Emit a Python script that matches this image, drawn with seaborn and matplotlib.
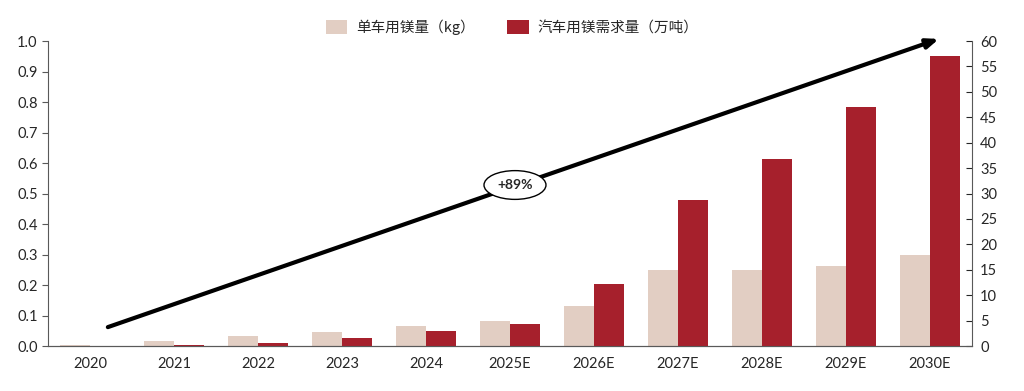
import pandas as pd
import matplotlib.pyplot as plt
from matplotlib.patches import Patch
import seaborn as sns

years = ['2020', '2021', '2022', '2023', '2024', '2025E', '2026E',
         '2027E', '2028E', '2029E', '2030E']
kg_per_car = [0.003, 0.016, 0.033, 0.047, 0.066, 0.082, 0.132,
              0.249, 0.249, 0.263, 0.298]
demand_wt = [0.05, 0.2, 0.6, 1.6, 2.9, 4.3, 12.3, 28.8, 36.8, 47.0, 57.1]
series = ['单车用镁量（kg）', '汽车用镁需求量（万吨）']
colors = ['#E2CEC3', '#A6202C']

sns.set_style('white')
plt.rcParams['font.family'] = ['Lato', 'Noto Sans CJK SC', 'DejaVu Sans']

df_kg = pd.DataFrame({'year': years, 'value': kg_per_car, 'series': series[0]})
df_wt = pd.DataFrame({'year': years, 'value': demand_wt, 'series': series[1]})

fig = plt.figure(figsize=(10.24, 3.91), dpi=100)
ax = fig.add_axes([0.047, 0.115, 0.902, 0.78])
ax2 = ax.twinx()

pal = dict(zip(series, colors))
sns.barplot(data=df_kg, x='year', y='value', hue='series', hue_order=series,
            order=years, palette=pal, width=0.72, dodge=True, ax=ax,
            legend=False, saturation=1, linewidth=0)
sns.barplot(data=df_wt, x='year', y='value', hue='series', hue_order=series,
            order=years, palette=pal, width=0.72, dodge=True, ax=ax2,
            legend=False, saturation=1, linewidth=0)

ax.set_xlim(-0.5, 10.5)
ax.set_ylim(0, 1.0)
ax2.set_ylim(0, 60)
ax.set_yticks([i / 10 for i in range(11)])
ax.set_yticklabels([f'{i / 10:.1f}' for i in range(11)])
ax2.set_yticks(range(0, 61, 5))
ax.set_xlabel('')
ax.set_ylabel('')
ax2.set_ylabel('')

for a in (ax, ax2):
    a.spines['top'].set_visible(False)
    for s in a.spines.values():
        s.set_color('#595959')
    a.tick_params(labelsize=10.5, colors='#262626', length=4)
ax.spines['right'].set_visible(False)
ax2.spines['left'].set_visible(False)
ax.tick_params(axis='x', length=0, pad=8)
ax2.tick_params(axis='y', direction='in', pad=6)
ax.tick_params(axis='y', color='#595959')

# growth arrow
ax.annotate('', xy=(10.14, 1.01), xytext=(0.18, 0.059),
            xycoords='data', textcoords='data', annotation_clip=False,
            arrowprops=dict(arrowstyle='-|>,head_length=0.7,head_width=0.28',
                            color='black', lw=3))
ax.text(5.06, 0.528, '+89%', ha='center', va='center', fontsize=10,
        fontweight='bold',
        bbox=dict(boxstyle='ellipse,pad=0.3', fc='white', ec='black', lw=1))

handles = [Patch(facecolor=c, edgecolor='none') for c in colors]
fig.legend(handles, series, loc='center', bbox_to_anchor=(0.5, 0.93),
           ncol=2, frameon=False, handlelength=1.5,
           handleheight=1.1, columnspacing=2.2, handletextpad=0.6,
           prop={'family': ['Noto Sans CJK SC', 'DejaVu Sans'], 'size': 10.5})

fig.savefig('out.png', dpi=100)
